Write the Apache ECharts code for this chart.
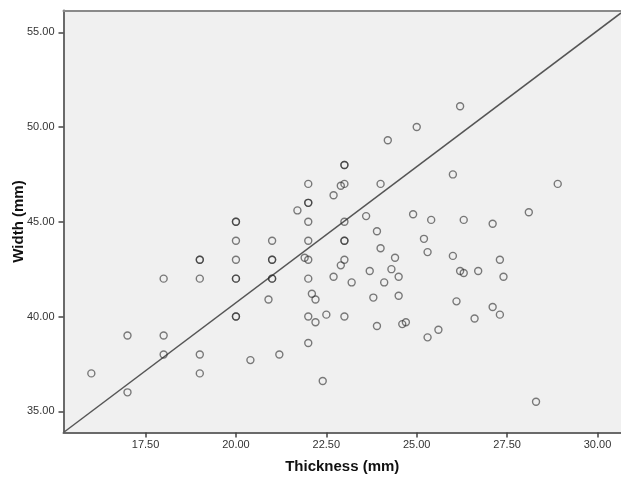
<!DOCTYPE html>
<html>
<head>
<meta charset="utf-8">
<script src="https://cdn.jsdelivr.net/npm/echarts@6/dist/echarts.min.js"></script>
<style>
  html, body { margin: 0; padding: 0; background: #fff; }
  #chart { width: 621px; height: 480px; }
</style>
</head>
<body>
<div id="chart"></div>
<script>
// Thickness (mm) / Width (mm) pairs
const thickness = [
  16, 17, 17, 18, 18, 18, 19, 19, 19, 19, 19,
  20, 20, 20, 20, 20, 20, 20, 20, 20.4,
  21, 21, 21, 21, 21, 20.9, 21.2, 21.7,
  22, 22, 22, 22, 22, 22, 21.9, 22, 22.1, 22.2, 22, 22.2, 22, 22.4, 22.5,
  22.7, 22.9, 23, 23, 23, 23, 23, 23, 23, 22.9, 22.7, 23.2, 23,
  23.6, 23.7, 23.8, 23.9, 23.9, 24, 24, 24.1, 24.2, 24.3, 24.4, 24.5, 24.5,
  24.6, 24.7, 24.9, 25, 25.2, 25.3, 25.4, 25.3, 25.6,
  26, 26, 26.1, 26.2, 26.2, 26.3, 26.3, 26.6, 26.7,
  27.1, 27.1, 27.3, 27.3, 27.4, 28.1, 28.3, 28.9
];
const width = [
  37, 39, 36, 42, 39, 38, 43, 43, 42, 38, 37,
  45, 45, 44, 43, 42, 42, 40, 40, 37.7,
  44, 43, 43, 42, 42, 40.9, 38, 45.6,
  47, 46, 46, 45, 44, 43, 43.1, 42, 41.2, 40.9, 40, 39.7, 38.6, 36.6, 40.1,
  46.4, 46.9, 47, 48, 48, 45, 44, 44, 43, 42.7, 42.1, 41.8, 40,
  45.3, 42.4, 41, 39.5, 44.5, 47, 43.6, 41.8, 49.3, 42.5, 43.1, 42.1, 41.1,
  39.6, 39.7, 45.4, 50, 44.1, 43.4, 45.1, 38.9, 39.3,
  47.5, 43.2, 40.8, 51.1, 42.4, 42.3, 45.1, 39.9, 42.4,
  44.9, 40.5, 43, 40.1, 42.1, 45.5, 35.5, 47
];
const xTicks = [17.5, 20, 22.5, 25, 27.5, 30];
const yTicks = [35, 40, 45, 50, 55];
const xRange = [15.23, 30.65];
const yRange = [33.88, 56.15];
// reference line drawn corner to corner
const refLine = [[15.23, 33.88], [30.65, 56.02]];

const chart = echarts.init(document.getElementById('chart'));

const axisColor = '#6a6a6a';
const labelStyle = {
  color: '#333',
  fontFamily: 'Liberation Sans, Arial',
  fontSize: 11,
  formatter: v => v.toFixed(2)
};

chart.setOption({
  animation: false,
  grid: {
    left: 63.5, right: 0, top: 10.5, bottom: 47.5,
    outerBoundsMode: 'none',
    containLabel: false,
    show: true, backgroundColor: '#f0f0f0', borderWidth: 0
  },
  xAxis: [
    {
      type: 'value',
      min: xRange[0],
      max: xRange[1],
      name: 'Thickness (mm)',
      nameLocation: 'middle',
      nameGap: 27,
      nameMoveOverlap: false,
      nameTextStyle: {
        color: '#111', fontFamily: 'Liberation Sans, Arial',
        fontWeight: 'bold', fontSize: 15
      },
      axisLine: { show: true, lineStyle: { color: axisColor, width: 2 } },
      axisTick: {
        show: true, length: 5, customValues: xTicks,
        lineStyle: { color: '#444', width: 1.5 }
      },
      axisLabel: { ...labelStyle, margin: 7, customValues: xTicks },
      splitLine: { show: false }
    },
    {
      type: 'value',
      position: 'top',
      min: xRange[0],
      max: xRange[1],
      axisLine: { show: true, lineStyle: { color: '#8a8a8a', width: 2 } },
      axisTick: { show: false },
      axisLabel: { show: false },
      splitLine: { show: false }
    }
  ],
  yAxis: {
    type: 'value',
    min: yRange[0],
    max: yRange[1],
    name: 'Width (mm)',
    nameLocation: 'middle',
    nameGap: 37,
    nameMoveOverlap: false,
    nameTextStyle: {
      color: '#111', fontFamily: 'Liberation Sans, Arial',
      fontWeight: 'bold', fontSize: 15
    },
    axisLine: { show: true, lineStyle: { color: axisColor, width: 2 } },
    axisTick: {
      show: true, length: 5, customValues: yTicks,
      lineStyle: { color: '#444', width: 1.5 }
    },
    axisLabel: { ...labelStyle, margin: 9, customValues: yTicks },
    splitLine: { show: false }
  },
  series: [
    {
      type: 'line',
      data: refLine,
      symbol: 'none',
      lineStyle: { color: '#555', width: 1.5 },
      silent: true,
      z: 1
    },
    {
      type: 'scatter',
      data: thickness.map((t, i) => [t, width[i]]),
      symbol: 'circle',
      symbolSize: 7,
      itemStyle: {
        color: 'transparent',
        borderColor: 'rgba(40,40,40,0.75)',
        borderWidth: 1.4
      },
      z: 2
    }
  ]
});
</script>
</body>
</html>
